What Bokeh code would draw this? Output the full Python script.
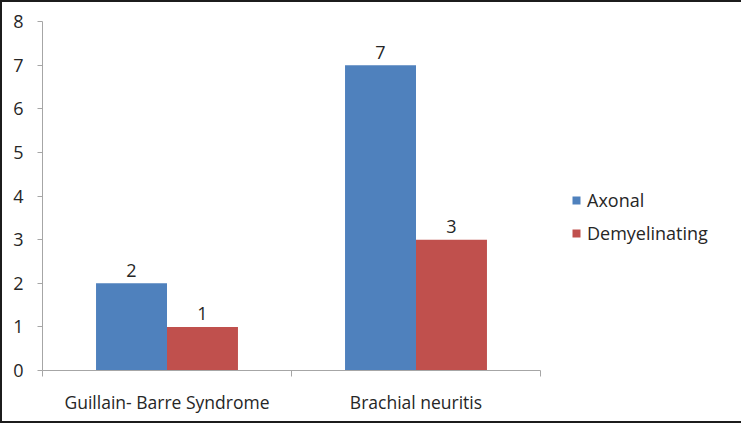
from bokeh.plotting import figure
from bokeh.models import Range1d, FixedTicker, Legend, LegendItem, ColumnDataSource
from bokeh.core.properties import value
from bokeh.embed import file_html
from bokeh.resources import INLINE

categories = ["Guillain- Barre Syndrome", "Brachial neuritis"]
series_names = ["Axonal", "Demyelinating"]
axonal = [2, 7]
demyelinating = [1, 3]
y_ticks = [0, 1, 2, 3, 4, 5, 6, 7, 8]

colors = ["#4F81BD", "#C0504D"]
FONT = "Open Sans"
TXT = "#262626"

p = figure(width=721, height=419, output_backend="svg", toolbar_location=None,
           frame_width=498, frame_height=349,
           x_range=Range1d(0, len(categories)), y_range=Range1d(0, y_ticks[-1]),
           min_border_left=40, min_border_right=183, min_border_top=19, min_border_bottom=51)
p.outline_line_color = None
p.grid.grid_line_color = None
p.background_fill_color = "white"
p.border_fill_color = "white"
p.styles = {"border": "2px solid #1c1c1c"}

bar_w = 0.285
offsets = [-bar_w / 2, bar_w / 2]
renderers = []
for vals, off, col in zip([axonal, demyelinating], offsets, colors):
    xs = [i + 0.5 + off for i in range(len(categories))]
    src = ColumnDataSource(dict(x=xs, top=vals, label=[str(v) for v in vals]))
    r = p.vbar(x="x", top="top", width=bar_w, source=src, fill_color=col, line_color=None)
    renderers.append(r)
    p.text(x="x", y="top", text="label", source=src, text_align="center",
           text_baseline="alphabetic", y_offset=-13, text_font_size="18px",
           text_color=TXT, text_font=value(FONT))

# x axis: labels at centers, tick marks at category boundaries
xa = p.xaxis[0]
xa.ticker = FixedTicker(ticks=[i + 0.5 for i in range(len(categories))],
                        minor_ticks=list(range(len(categories) + 1)))
xa.major_label_overrides = {i + 0.5: c for i, c in enumerate(categories)}
xa.major_tick_line_color = None
xa.major_tick_out = 0
xa.major_tick_in = 0
xa.minor_tick_line_color = "#a6a6a6"
xa.minor_tick_out = 6
xa.minor_tick_in = 0
xa.axis_line_color = "#a6a6a6"
xa.major_label_standoff = 13
xa.major_label_text_font = FONT
xa.major_label_text_font_size = "17.5px"
xa.major_label_text_color = TXT

ya = p.yaxis[0]
ya.ticker = FixedTicker(ticks=y_ticks)
ya.minor_tick_line_color = None
ya.major_tick_line_color = "#a6a6a6"
ya.major_tick_out = 5
ya.major_tick_in = 0
ya.axis_line_color = "#a6a6a6"
ya.major_label_standoff = 14
ya.major_label_text_font = FONT
ya.major_label_text_font_size = "18px"
ya.major_label_text_color = TXT

legend = Legend(items=[LegendItem(label=n, renderers=[r]) for n, r in zip(series_names, renderers)],
                location=(31, 125), border_line_color=None, background_fill_alpha=0,
                glyph_width=10, glyph_height=10, label_height=20, spacing=9,
                padding=0, margin=0, label_standoff=6,
                label_text_font=FONT, label_text_font_size="18px", label_text_color=TXT)
p.add_layout(legend, "right")

open("out.html", "w").write(file_html(p, INLINE))
